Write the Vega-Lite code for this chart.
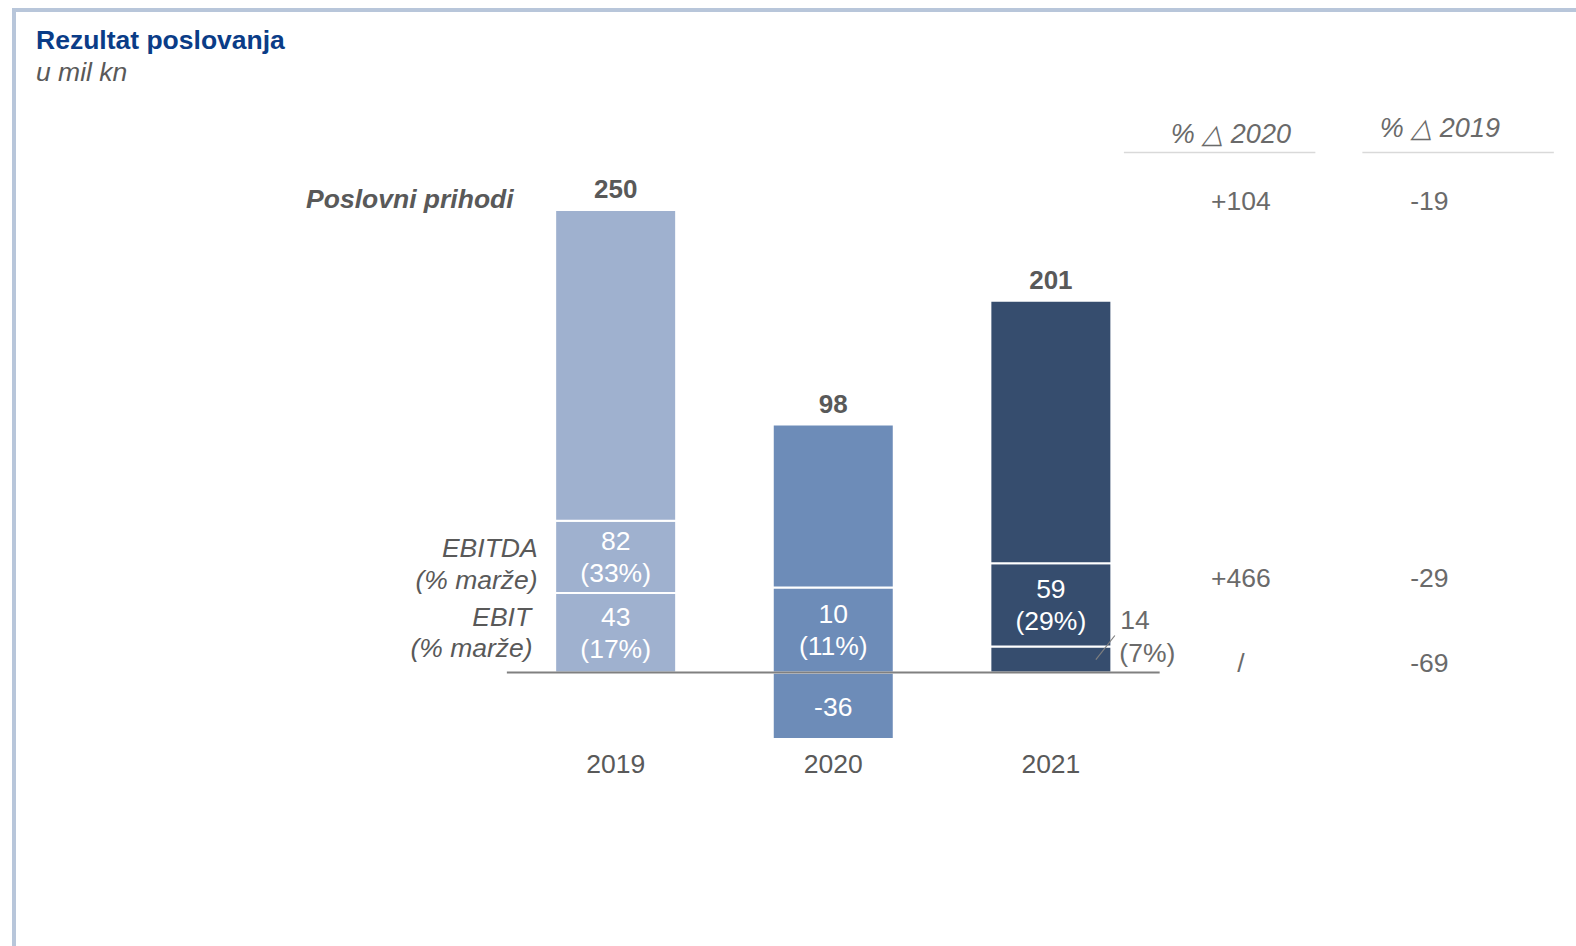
{
  "$schema": "https://vega.github.io/schema/vega-lite/v6.json",
  "width": 1566,
  "height": 940,
  "autosize": {"type": "none"},
  "padding": {"left": 14, "top": 10, "right": -4, "bottom": -4},
  "background": "white",
  "config": {
    "font": "Liberation Sans",
    "view": {"stroke": "#b8c6da", "strokeWidth": 4},
    "axis": {"disable": true},
    "text": {"fontSize": 26.5}
  },
  "title": {
    "text": "Rezultat poslovanja",
    "subtitle": "u mil kn",
    "anchor": "start",
    "frame": "group",
    "orient": "top",
    "offset": -76,
    "dx": 22,
    "fontSize": 26.5,
    "fontWeight": "bold",
    "color": "#0a3c87",
    "subtitleFontSize": 26.5,
    "subtitleFontStyle": "italic",
    "subtitleColor": "#595959",
    "subtitlePadding": 5
  },
  "datasets": {
    "segs": [
      {"year": 2019, "seg": "EBIT", "lo": 0, "hi": 43, "val": "43", "pct": "(17%)"},
      {"year": 2019, "seg": "EBITDA", "lo": 43, "hi": 82, "val": "82", "pct": "(33%)"},
      {"year": 2019, "seg": "Poslovni prihodi", "lo": 82, "hi": 250, "val": "250"},
      {"year": 2020, "seg": "EBIT", "lo": -36, "hi": 0, "val": "-36"},
      {"year": 2020, "seg": "EBITDA", "lo": 0, "hi": 46, "val": "10", "pct": "(11%)"},
      {"year": 2020, "seg": "Poslovni prihodi", "lo": 46, "hi": 134, "val": "98"},
      {"year": 2021, "seg": "EBIT", "lo": 0, "hi": 14, "val": "14", "pct": "(7%)"},
      {"year": 2021, "seg": "EBITDA", "lo": 14, "hi": 59, "val": "59", "pct": "(29%)"},
      {"year": 2021, "seg": "Poslovni prihodi", "lo": 59, "hi": 201, "val": "201"}
    ],
    "rows": [
      {"row": "Poslovni prihodi", "name": "Poslovni prihodi", "d2020": "+104", "d2019": "-19"},
      {"row": "EBITDA", "name": "EBITDA", "sub": "(% marže)", "d2020": "+466", "d2019": "-29"},
      {"row": "EBIT", "name": "EBIT", "sub": "(% marže)", "d2020": "/", "d2019": "-69"}
    ],
    "heads": [
      {"col": "d2020", "head": "% △ 2020"},
      {"col": "d2019", "head": "% △ 2019"}
    ],
    "lines": [
      {"line": "baseline"},
      {"line": "leader"}
    ]
  },
  "layer": [
    {
      "data": {"name": "segs"},
      "mark": {"type": "bar", "width": 121, "stroke": "white", "strokeWidth": 2},
      "encoding": {
        "x": {"field": "year", "type": "quantitative", "scale": {"domain": [2016.258, 2023.4087], "nice": false, "zero": false}, "axis": null},
        "y": {"field": "lo", "type": "quantitative", "scale": {"domain": [-150, 358.108], "nice": false, "zero": false}, "axis": null},
        "y2": {"field": "hi"},
        "color": {"field": "year", "type": "nominal", "scale": {"domain": [2019, 2020, 2021], "range": ["#9fb1cf", "#6d8cb8", "#364d6e"]}, "legend": null}
      }
    },
    {
      "data": {"name": "lines"},
      "transform": [{"filter": "datum.line == 'baseline'"}],
      "mark": {"type": "rule", "color": "#808080", "strokeWidth": 2},
      "encoding": {
        "x": {"datum": 2018.5},
        "x2": {"datum": 2021.5},
        "y": {"datum": 0}
      }
    },
    {
      "data": {"name": "lines"},
      "transform": [{"filter": "datum.line == 'leader'"}],
      "mark": {"type": "rule", "color": "#7f7f7f", "strokeWidth": 1.2, "xOffset": 45, "x2Offset": 64},
      "encoding": {
        "x": {"datum": 2021},
        "x2": {"datum": 2021},
        "y": {"datum": 7},
        "y2": {"datum": 20}
      }
    },
    {
      "data": {"name": "segs"},
      "transform": [{"filter": "datum.seg == 'Poslovni prihodi'"}],
      "mark": {"type": "text", "fontWeight": "bold", "fontSize": 26, "color": "#595959", "baseline": "alphabetic", "dy": -12},
      "encoding": {
        "x": {"field": "year", "type": "quantitative"},
        "y": {"field": "hi", "type": "quantitative"},
        "text": {"field": "val", "type": "nominal"}
      }
    },
    {
      "data": {"name": "segs"},
      "transform": [
        {"filter": "datum.seg != 'Poslovni prihodi' && datum.pct && !(datum.year == 2021 && datum.seg == 'EBIT')"},
        {"fold": ["lo", "hi"], "as": ["k", "v"]}
      ],
      "mark": {"type": "text", "color": "white", "baseline": "middle", "dy": -15},
      "encoding": {
        "x": {"field": "year", "type": "quantitative"},
        "y": {"aggregate": "mean", "field": "v", "type": "quantitative"},
        "text": {"field": "val", "type": "nominal"}
      }
    },
    {
      "data": {"name": "segs"},
      "transform": [
        {"filter": "datum.seg != 'Poslovni prihodi' && datum.pct && !(datum.year == 2021 && datum.seg == 'EBIT')"},
        {"fold": ["lo", "hi"], "as": ["k", "v"]}
      ],
      "mark": {"type": "text", "color": "white", "baseline": "middle", "dy": 17},
      "encoding": {
        "x": {"field": "year", "type": "quantitative"},
        "y": {"aggregate": "mean", "field": "v", "type": "quantitative"},
        "text": {"field": "pct", "type": "nominal"}
      }
    },
    {
      "data": {"name": "segs"},
      "transform": [
        {"filter": "datum.seg != 'Poslovni prihodi' && !datum.pct"},
        {"fold": ["lo", "hi"], "as": ["k", "v"]}
      ],
      "mark": {"type": "text", "color": "white", "baseline": "middle", "dy": 2},
      "encoding": {
        "x": {"field": "year", "type": "quantitative"},
        "y": {"aggregate": "mean", "field": "v", "type": "quantitative"},
        "text": {"field": "val", "type": "nominal"}
      }
    },
    {
      "data": {"name": "segs"},
      "transform": [{"filter": "datum.year == 2021 && datum.seg == 'EBIT'"}],
      "mark": {"type": "text", "color": "#6a6a6a", "align": "left", "baseline": "alphabetic", "dx": 69.5, "dy": -17.6},
      "encoding": {
        "x": {"field": "year", "type": "quantitative"},
        "y": {"field": "hi", "type": "quantitative"},
        "text": {"field": "val", "type": "nominal"}
      }
    },
    {
      "data": {"name": "segs"},
      "transform": [{"filter": "datum.year == 2021 && datum.seg == 'EBIT'"}],
      "mark": {"type": "text", "color": "#6a6a6a", "align": "left", "baseline": "alphabetic", "dx": 68.5, "dy": 15.4},
      "encoding": {
        "x": {"field": "year", "type": "quantitative"},
        "y": {"field": "hi", "type": "quantitative"},
        "text": {"field": "pct", "type": "nominal"}
      }
    },
    {
      "data": {"name": "segs"},
      "transform": [{"filter": "datum.seg == 'EBIT'"}],
      "mark": {"type": "text", "color": "#595959", "baseline": "alphabetic", "dy": 101},
      "encoding": {
        "x": {"field": "year", "type": "quantitative"},
        "y": {"datum": 0},
        "text": {"field": "year", "type": "nominal"}
      }
    },
    {
      "data": {"name": "rows"},
      "transform": [{"filter": "datum.row == 'Poslovni prihodi'"}],
      "mark": {"type": "text", "color": "#595959", "fontWeight": "bold", "fontStyle": "italic", "align": "right", "baseline": "alphabetic", "dx": -102, "dy": -2},
      "encoding": {
        "x": {"datum": 2019},
        "y": {"datum": 250},
        "text": {"field": "name", "type": "nominal"}
      }
    },
    {
      "data": {"name": "rows"},
      "transform": [{"filter": "datum.row == 'EBITDA'"}],
      "mark": {"type": "text", "color": "#595959", "fontStyle": "italic", "align": "right", "baseline": "alphabetic", "dx": -78, "dy": 0},
      "encoding": {
        "x": {"datum": 2019},
        "y": {"datum": 62.5},
        "text": {"field": "name", "type": "nominal"}
      }
    },
    {
      "data": {"name": "rows"},
      "transform": [{"filter": "datum.row == 'EBITDA'"}],
      "mark": {"type": "text", "color": "#595959", "fontStyle": "italic", "align": "right", "baseline": "alphabetic", "dx": -78, "dy": 32},
      "encoding": {
        "x": {"datum": 2019},
        "y": {"datum": 62.5},
        "text": {"field": "sub", "type": "nominal"}
      }
    },
    {
      "data": {"name": "rows"},
      "transform": [{"filter": "datum.row == 'EBIT'"}],
      "mark": {"type": "text", "color": "#595959", "fontStyle": "italic", "align": "right", "baseline": "alphabetic", "dx": -84.5, "dy": -7},
      "encoding": {
        "x": {"datum": 2019},
        "y": {"datum": 21.5},
        "text": {"field": "name", "type": "nominal"}
      }
    },
    {
      "data": {"name": "rows"},
      "transform": [{"filter": "datum.row == 'EBIT'"}],
      "mark": {"type": "text", "color": "#595959", "fontStyle": "italic", "align": "right", "baseline": "alphabetic", "dx": -83, "dy": 24},
      "encoding": {
        "x": {"datum": 2019},
        "y": {"datum": 21.5},
        "text": {"field": "sub", "type": "nominal"}
      }
    },
    {
      "data": {"name": "rows"},
      "transform": [{"filter": "datum.row == 'Poslovni prihodi'"}],
      "mark": {"type": "text", "color": "#6a6a6a", "baseline": "alphabetic", "dx": 190},
      "encoding": {"x": {"datum": 2021}, "y": {"datum": 250}, "text": {"field": "d2020", "type": "nominal"}}
    },
    {
      "data": {"name": "rows"},
      "transform": [{"filter": "datum.row == 'Poslovni prihodi'"}],
      "mark": {"type": "text", "color": "#6a6a6a", "baseline": "alphabetic", "dx": 378.5},
      "encoding": {"x": {"datum": 2021}, "y": {"datum": 250}, "text": {"field": "d2019", "type": "nominal"}}
    },
    {
      "data": {"name": "rows"},
      "transform": [{"filter": "datum.row == 'EBITDA'"}],
      "mark": {"type": "text", "color": "#6a6a6a", "baseline": "alphabetic", "dx": 190},
      "encoding": {"x": {"datum": 2021}, "y": {"datum": 46}, "text": {"field": "d2020", "type": "nominal"}}
    },
    {
      "data": {"name": "rows"},
      "transform": [{"filter": "datum.row == 'EBITDA'"}],
      "mark": {"type": "text", "color": "#6a6a6a", "baseline": "alphabetic", "dx": 378.5},
      "encoding": {"x": {"datum": 2021}, "y": {"datum": 46}, "text": {"field": "d2019", "type": "nominal"}}
    },
    {
      "data": {"name": "rows"},
      "transform": [{"filter": "datum.row == 'EBIT'"}],
      "mark": {"type": "text", "color": "#6a6a6a", "baseline": "alphabetic", "dx": 190},
      "encoding": {"x": {"datum": 2021}, "y": {"datum": 0}, "text": {"field": "d2020", "type": "nominal"}}
    },
    {
      "data": {"name": "rows"},
      "transform": [{"filter": "datum.row == 'EBIT'"}],
      "mark": {"type": "text", "color": "#6a6a6a", "baseline": "alphabetic", "dx": 378.5},
      "encoding": {"x": {"datum": 2021}, "y": {"datum": 0}, "text": {"field": "d2019", "type": "nominal"}}
    },
    {
      "data": {"name": "heads"},
      "transform": [{"filter": "datum.col == 'd2020'"}],
      "mark": {"type": "text", "color": "#6a6a6a", "fontStyle": "italic", "fontSize": 27, "baseline": "alphabetic", "dx": 180, "dy": -67},
      "encoding": {"x": {"datum": 2021}, "y": {"datum": 250}, "text": {"field": "head", "type": "nominal"}}
    },
    {
      "data": {"name": "heads"},
      "transform": [{"filter": "datum.col == 'd2019'"}],
      "mark": {"type": "text", "color": "#6a6a6a", "fontStyle": "italic", "fontSize": 27, "baseline": "alphabetic", "dx": 389, "dy": -73.3},
      "encoding": {"x": {"datum": 2021}, "y": {"datum": 250}, "text": {"field": "head", "type": "nominal"}}
    },
    {
      "data": {"name": "heads"},
      "transform": [{"filter": "datum.col == 'd2020'"}],
      "mark": {"type": "rule", "color": "#d9d9d9", "strokeWidth": 1.5},
      "encoding": {"x": {"datum": 2021.3356}, "x2": {"datum": 2022.2155}, "y": {"datum": 281.1}}
    },
    {
      "data": {"name": "heads"},
      "transform": [{"filter": "datum.col == 'd2019'"}],
      "mark": {"type": "rule", "color": "#d9d9d9", "strokeWidth": 1.5},
      "encoding": {"x": {"datum": 2022.4315}, "x2": {"datum": 2023.3114}, "y": {"datum": 281.1}}
    }
  ]
}
